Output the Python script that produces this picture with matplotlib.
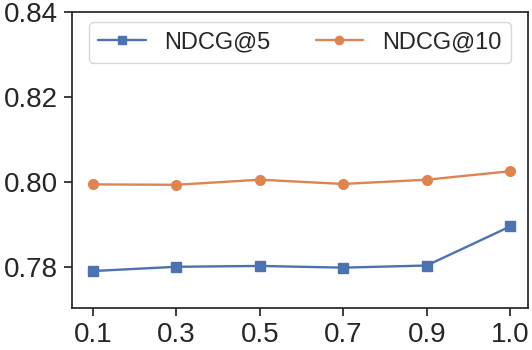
import matplotlib
matplotlib.use("Agg")
import matplotlib.pyplot as plt
import seaborn as sns

# data
x_labels = ["0.1", "0.3", "0.5", "0.7", "0.9", "1.0"]
ndcg5 = [0.7790, 0.7800, 0.7802, 0.7798, 0.7803, 0.7895]
ndcg10 = [0.7994, 0.7993, 0.8005, 0.7995, 0.8005, 0.8025]
y_ticks = [0.78, 0.80, 0.82, 0.84]

sns.set_theme(style="ticks")
plt.rcParams["font.family"] = ["Liberation Sans", "DejaVu Sans"]

blue = sns.color_palette("deep")[0]
orange = sns.color_palette("deep")[1]

fig = plt.figure(figsize=(5.32, 3.5), dpi=100)
ax = fig.add_axes([0.135, 0.12, 0.857, 0.846])

pos = list(range(len(x_labels)))
ax.plot(pos, ndcg5, color=blue, marker="s", markersize=7, linewidth=1.7, label="NDCG@5")
ax.plot(pos, ndcg10, color=orange, marker="o", markersize=7, linewidth=1.7, label="NDCG@10")

ax.set_xticks(pos)
ax.set_xticklabels(x_labels)
ax.set_xlim(-0.25, 5.21)
ax.set_yticks(y_ticks)
ax.set_yticklabels([f"{v:.2f}" for v in y_ticks])
ax.set_ylim(0.7703, 0.84)

ax.tick_params(axis="both", labelsize=20, length=6, width=1.25, colors="#262626", pad=4)
for s in ax.spines.values():
    s.set_linewidth(1.25)
    s.set_color("#262626")

ax.legend(loc="upper center", ncol=2, fontsize=17, frameon=True,
          bbox_to_anchor=(0.5, 1.0), borderaxespad=0.42,
          columnspacing=1.9, handlelength=2.0, handletextpad=0.8,
          markerscale=0.85)

fig.savefig("out.png", dpi=100)
